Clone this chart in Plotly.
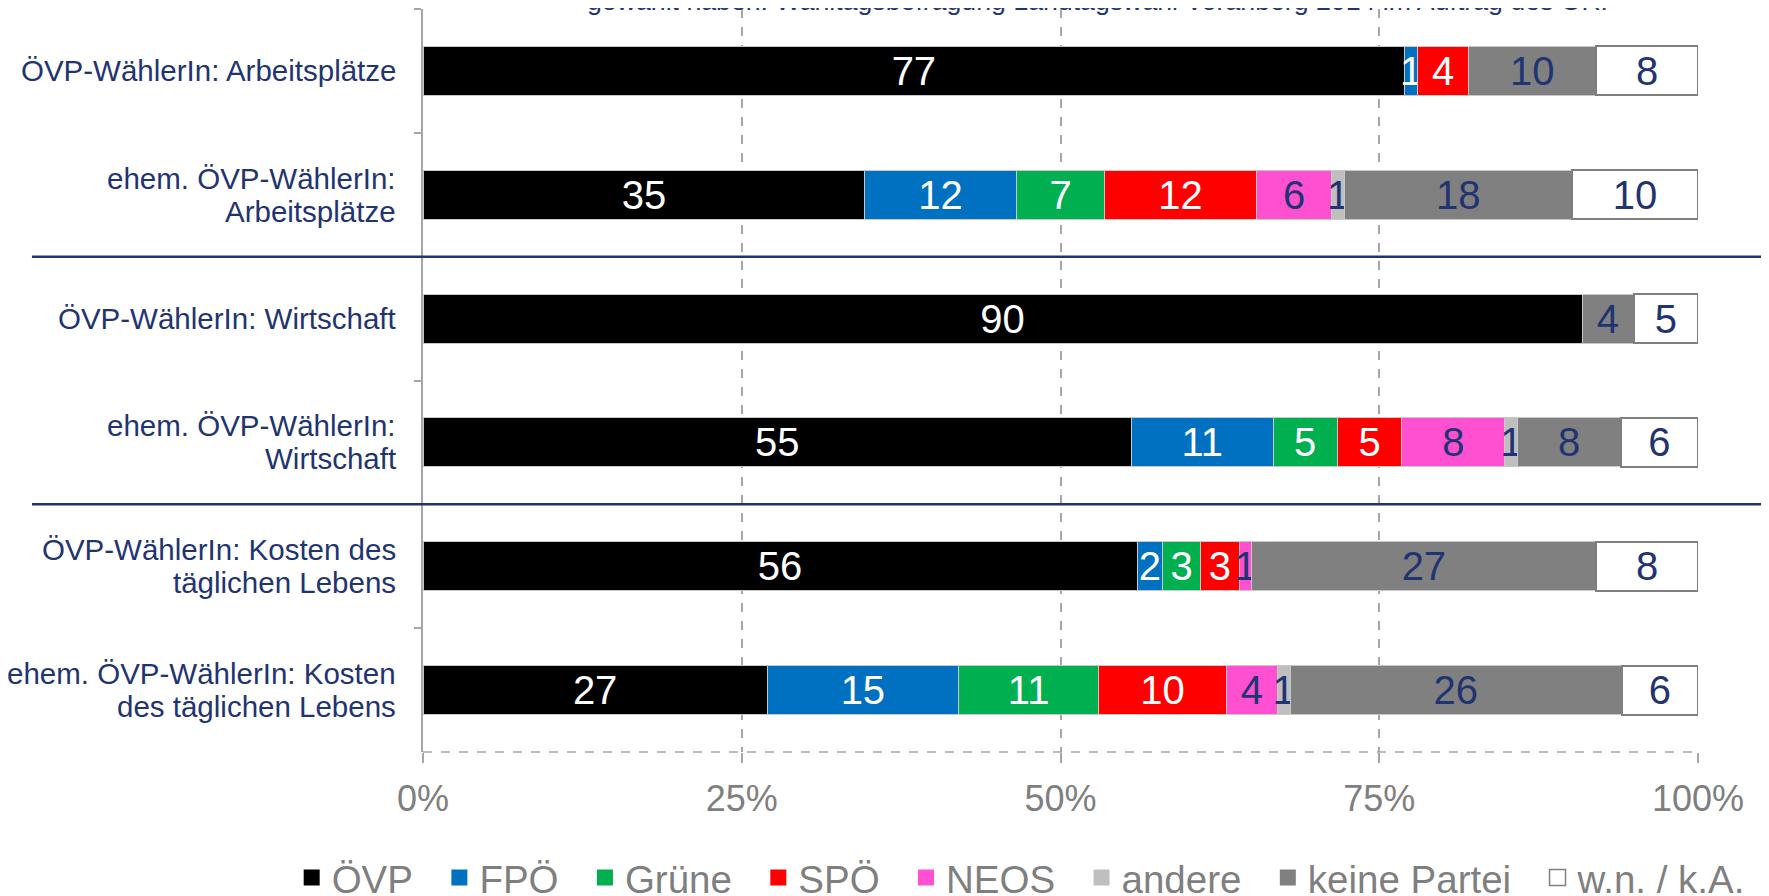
import plotly.graph_objects as go

# ---------------- data ----------------
categories = [
    "ÖVP-WählerIn: Arbeitsplätze",
    "ehem. ÖVP-WählerIn:\nArbeitsplätze",
    "ÖVP-WählerIn: Wirtschaft",
    "ehem. ÖVP-WählerIn:\nWirtschaft",
    "ÖVP-WählerIn: Kosten des\ntäglichen Lebens",
    "ehem. ÖVP-WählerIn: Kosten\ndes täglichen Lebens",
]
parties = ["ÖVP", "FPÖ", "Grüne", "SPÖ", "NEOS", "andere", "keine Partei", "w.n. / k.A."]
oevp = [77, 35, 90, 55, 56, 27]
fpoe = [1, 12, 0, 11, 2, 15]
gruene = [0, 7, 0, 5, 3, 11]
spoe = [4, 12, 0, 5, 3, 10]
neos = [0, 6, 0, 8, 1, 4]
andere = [0, 1, 0, 1, 0, 1]
keine = [10, 18, 4, 8, 27, 26]
wnka = [8, 10, 5, 6, 8, 6]
series = [oevp, fpoe, gruene, spoe, neos, andere, keine, wnka]
x_ticks = [0, 25, 50, 75, 100]
x_tick_labels = ["0%", "25%", "50%", "75%", "100%"]
title_text = "gewählt haben. Wahltagsbefragung Landtagswahl Vorarlberg 2014 im Auftrag des ORF"

# ---------------- styles ----------------
FONT = "Liberation Sans, Arial, sans-serif"
NAVY = "#1F3471"
GRAY_TXT = "#7F7F7F"
AXIS_GRAY = "#A6A6A6"
fill_colors = ["#000000", "#0070C0", "#00B050", "#FF0000", "#FF50D2", "#BFBFBF", "#808080", "#FFFFFF"]
text_colors = ["#FFFFFF", "#FFFFFF", "#FFFFFF", "#FFFFFF", NAVY, NAVY, NAVY, NAVY]
line_colors = ["#C8C8C8"] * 7 + ["#7F7F7F"]
line_widths = [1] * 7 + [2]

ykeys = [c.replace("\n", " ") for c in categories]

fig = go.Figure()
for name, vals, fc, tc, lc, lw in zip(parties, series, fill_colors, text_colors, line_colors, line_widths):
    fig.add_trace(go.Bar(
        name=name,
        y=ykeys,
        x=[v if v else None for v in vals],
        orientation="h",
        marker=dict(color=fc, line=dict(color=lc, width=lw)),
        text=[str(v) if v else "" for v in vals],
        textposition="inside",
        insidetextanchor="middle",
        textangle=0,
        textfont=dict(family=FONT, size=40, color=tc),
        hoverinfo="skip",
        showlegend=False,
    ))

# legend entries (square swatches)
NBSP = "\u00a0"
for name, fc in zip(parties, fill_colors):
    is_last = name == parties[-1]
    fig.add_trace(go.Scatter(
        name=name + ("" if is_last else NBSP * 2),
        x=[None], y=[None], mode="markers",
        marker=dict(symbol="square", size=16, color=fc,
                    line=dict(color="#7F7F7F" if is_last else fc, width=1.5 if is_last else 0)),
        hoverinfo="skip", showlegend=True,
    ))

annotations = []
# category labels (multi-line, centred lines, right-anchored block)
LINE_SP = 33
for key, cat in zip(ykeys, categories):
    lines = cat.split("\n")
    n = len(lines)
    for i, ln in enumerate(lines):
        shift = ((n - 1) / 2 - i) * LINE_SP
        annotations.append(dict(
            xref="paper", yref="y", x=0, y=key, xanchor="right", yanchor="middle",
            xshift=-25, yshift=shift, showarrow=False,
            text=ln, font=dict(family=FONT, size=29.5, color=NAVY), align="center",
        ))

# title (cut off at top as in reference)
annotations.append(dict(
    xref="paper", yref="paper", x=0.5326, y=1.0, xanchor="center", yanchor="middle",
    yshift=8, showarrow=False, text=title_text,
    font=dict(family=FONT, size=26.7, color=NAVY),
))

shapes = [
    # dashed bottom axis line
    dict(type="line", xref="paper", yref="paper", x0=0, x1=1, y0=0, y1=0,
         line=dict(color=AXIS_GRAY, width=1.5, dash="dash"), layer="above"),
    # second dashed line at 100 %
    dict(type="line", xref="x", yref="paper", xsizemode="pixel", xanchor=100, x0=2.5, x1=2.5,
         y0=0, y1=1, line=dict(color=AXIS_GRAY, width=1.2, dash="dash"), layer="below"),
]
# group separators
for yb in [1.5, 3.5]:
    shapes.append(dict(type="line", xref="paper", yref="y", x0=-0.3067, x1=1.07, y0=yb, y1=yb,
                       line=dict(color=NAVY, width=2.5), layer="above"))

fig.update_layout(
    width=1769, height=896,
    margin=dict(l=415, r=79, t=1, b=152, autoexpand=False),
    paper_bgcolor="white", plot_bgcolor="white",
    barmode="stack", barnorm="percent", bargap=0.604,
    uniformtext=dict(minsize=40, mode="show"),
    font=dict(family=FONT),
    showlegend=True,
    legend=dict(orientation="h", xref="paper", yref="paper",
                x=-0.103, xanchor="left", y=-0.1696, yanchor="middle",
                font=dict(family=FONT, size=38.5, color=GRAY_TXT), traceorder="normal",
                itemclick=False, itemdoubleclick=False),
    annotations=annotations,
    shapes=shapes,
    xaxis=dict(range=[0, 100], tickvals=x_ticks, ticktext=x_tick_labels,
               showgrid=True, gridcolor=AXIS_GRAY, griddash="dash", gridwidth=1.5,
               zeroline=False, showline=False,
               ticks="outside", ticklen=10, tickcolor=AXIS_GRAY, tickwidth=1.5,
               ticklabelstandoff=5,
               tickfont=dict(family=FONT, size=36, color=GRAY_TXT), fixedrange=True),
    yaxis=dict(type="category", autorange="reversed", showticklabels=False,
               showline=True, linecolor=AXIS_GRAY, linewidth=2, showgrid=False, zeroline=False,
               ticks="outside", tickson="boundaries", ticklen=7, tickcolor=AXIS_GRAY, tickwidth=2,
               fixedrange=True),
)

fig.write_html("out.html")
